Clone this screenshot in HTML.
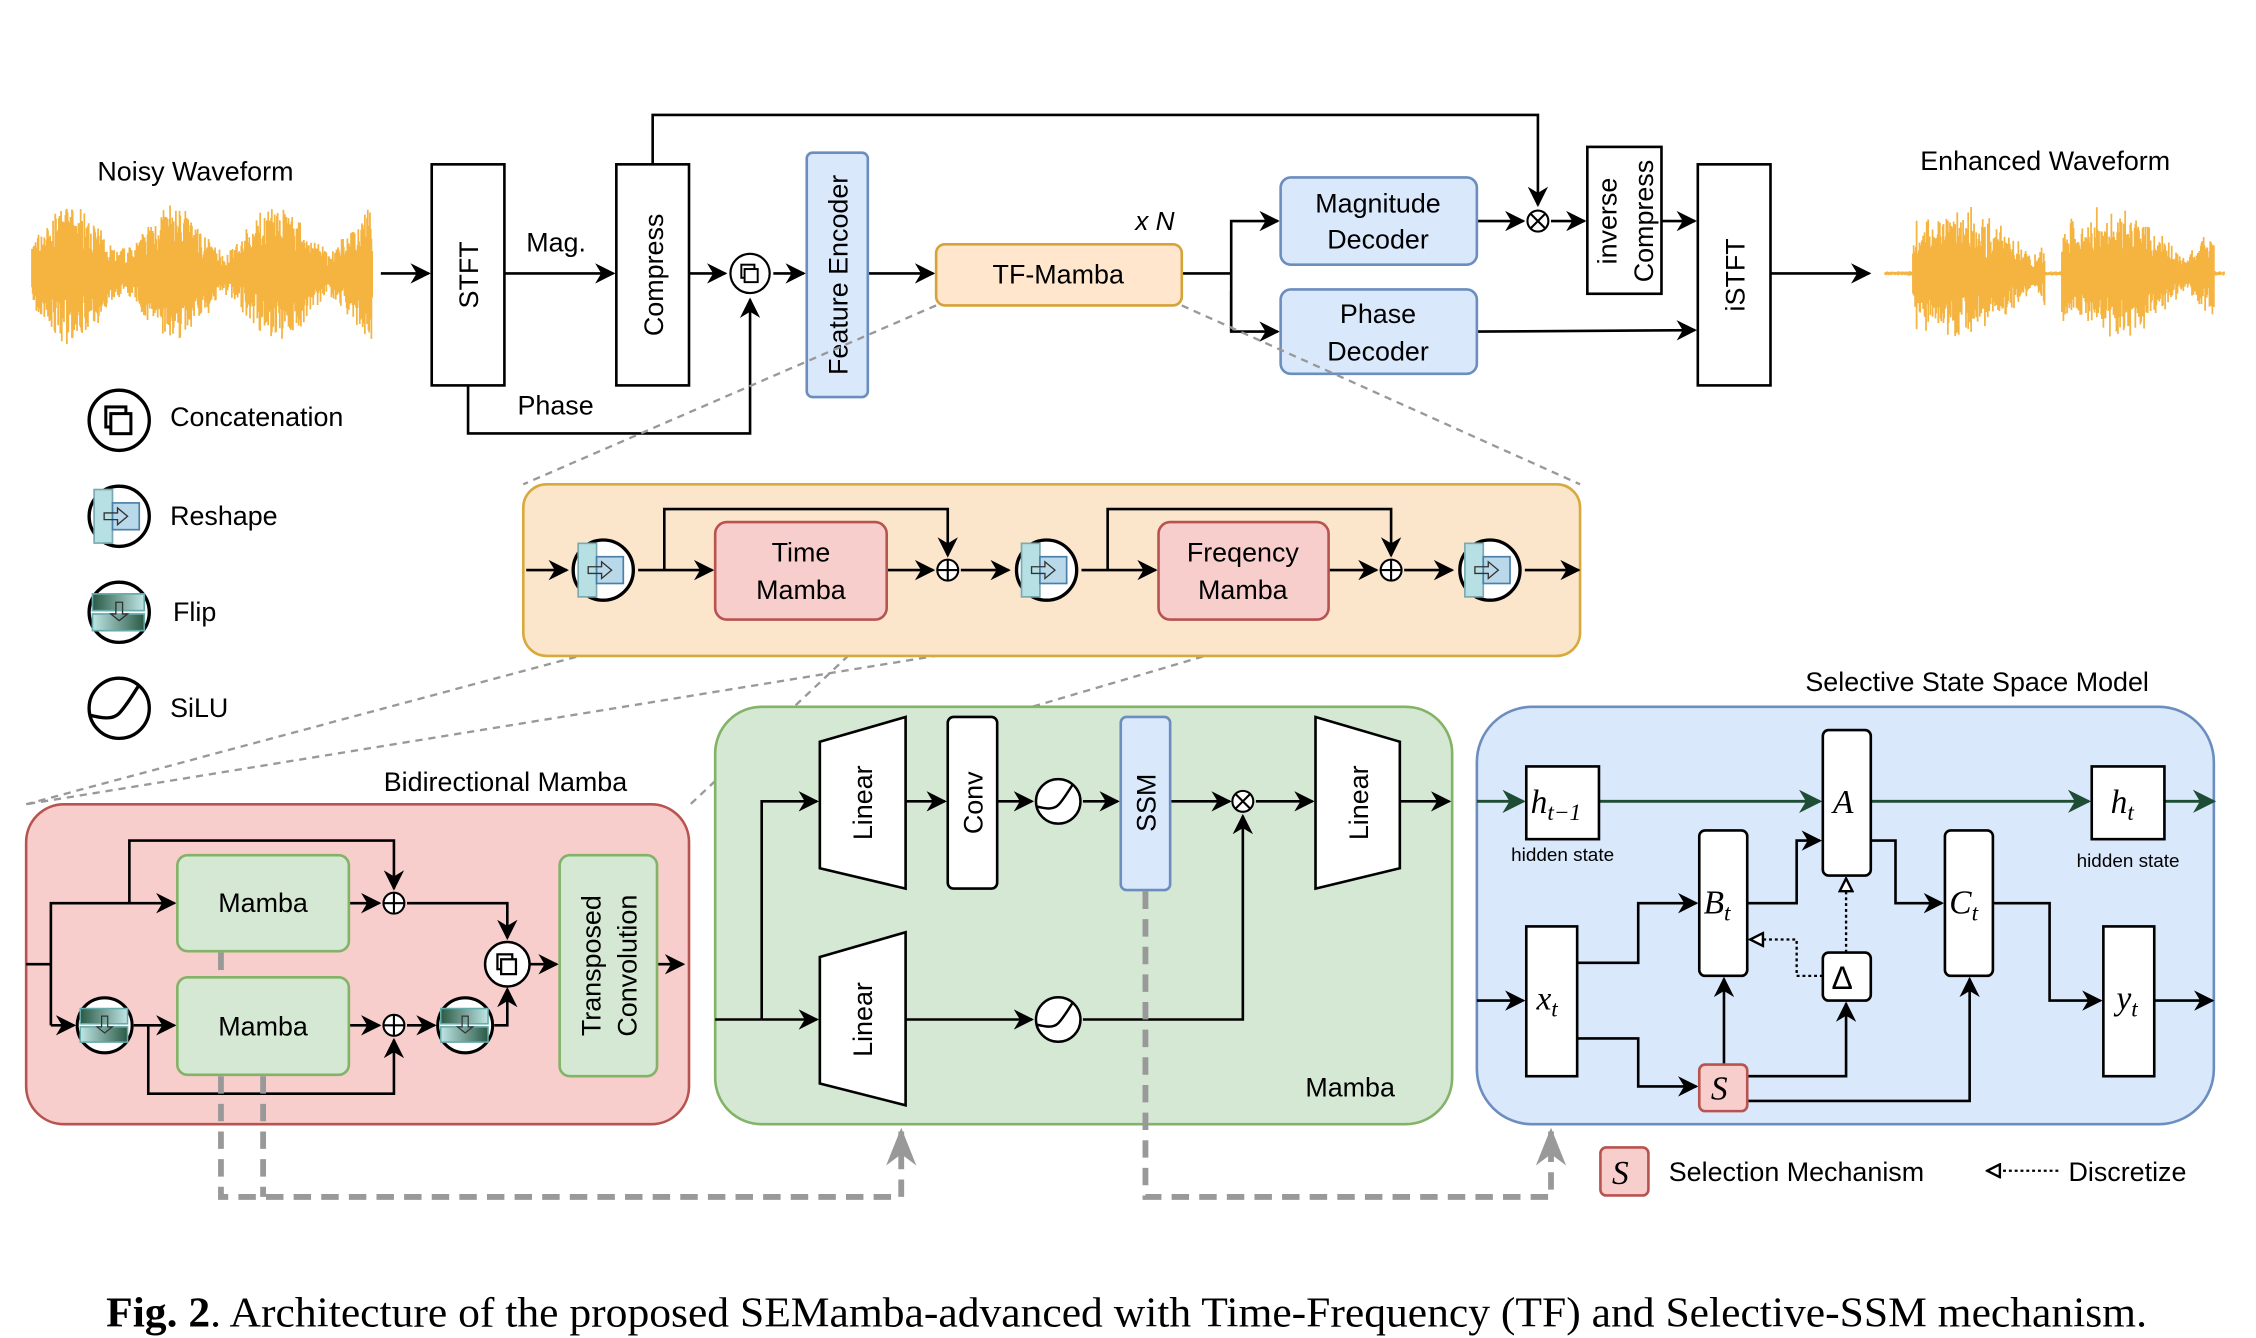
<!DOCTYPE html>
<html><head><meta charset="utf-8">
<style>
html,body{margin:0;padding:0;background:#fff;}
svg{display:block;}
text{font-family:"Liberation Sans",sans-serif;fill:#000;}
.m{font-family:"Liberation Serif",serif;font-style:italic;}
</style></head>
<body>
<svg id="s" width="2256" height="1338" viewBox="0 0 1552 920" preserveAspectRatio="none" xmlns="http://www.w3.org/2000/svg">
<defs>
<marker id="a" viewBox="0 0 10 10" refX="9" refY="5" markerWidth="7" markerHeight="7" orient="auto" markerUnits="userSpaceOnUse"><path d="M0,0 L10,5 L0,10 L3,5 Z" fill="#000"/></marker>
<marker id="ab" viewBox="0 0 10 10" refX="9" refY="5" markerWidth="14" markerHeight="14" orient="auto" markerUnits="userSpaceOnUse"><path d="M0,0 L10,5 L0,10 L3,5 Z" fill="#000"/></marker>
<marker id="ag" viewBox="0 0 10 10" refX="9" refY="5" markerWidth="16" markerHeight="16" orient="auto" markerUnits="userSpaceOnUse"><path d="M0,0 L10,5 L0,10 L3,5 Z" fill="#1e4d35"/></marker>
<marker id="ao" viewBox="0 0 10 10" refX="9" refY="5" markerWidth="11" markerHeight="11" orient="auto" markerUnits="userSpaceOnUse"><path d="M1,1 L9,5 L1,9 Z" fill="#fff" stroke="#000" stroke-width="1.5"/></marker>
<marker id="agr" viewBox="0 0 10 10" refX="9" refY="5" markerWidth="26" markerHeight="26" orient="auto" markerUnits="userSpaceOnUse"><path d="M0,1 L10,5 L0,9 L3,5 Z" fill="#999"/></marker>
<linearGradient id="fg1" x1="0" x2="1"><stop offset="0" stop-color="#2a5a45"/><stop offset="1" stop-color="#bfe6e6"/></linearGradient>
<linearGradient id="fg2" x1="0" x2="1"><stop offset="0" stop-color="#bfe6e6"/><stop offset="1" stop-color="#2a5a45"/></linearGradient>
<symbol id="cat" viewBox="-20 -20 40 40" overflow="visible"><circle r="18" fill="#fff" stroke="#000" stroke-width="2"/><rect x="-8" y="-8" width="12" height="12" fill="#fff" stroke="#000" stroke-width="1.8"/><rect x="-5" y="-4" width="12" height="12" fill="#fff" stroke="#000" stroke-width="1.8"/></symbol>
<symbol id="rsh" viewBox="-20 -20 40 40" overflow="visible"><circle r="18" fill="#fff" stroke="#000" stroke-width="2"/><rect x="-15" y="-16" width="11" height="32" fill="#b6e0e4" stroke="#7aaab0"/><rect x="-4" y="-8" width="16" height="16" fill="#b9d9ea" stroke="#4a7fa8"/><path d="M-9,-2 H-1 V-5 L5,0 L-1,5 V2 H-9 Z" fill="none" stroke="#333" stroke-width="0.8"/></symbol>
<symbol id="flp" viewBox="-20 -20 40 40" overflow="visible"><circle r="18" fill="#fff" stroke="#000" stroke-width="2"/><rect x="-16" y="-11" width="31" height="10" fill="url(#fg1)" stroke="#6aa"/><rect x="-16" y="1" width="31" height="10" fill="url(#fg2)" stroke="#6aa"/><path d="M-2,-6 H2 V1 H5 L0,5 L-5,1 H-2 Z" fill="none" stroke="#333" stroke-width="0.8"/></symbol>
<symbol id="silu" viewBox="-20 -20 40 40" overflow="visible"><circle r="18" fill="#fff" stroke="#000" stroke-width="2"/><path d="M-18,4 C-10,6 -4,7 0,3 C4,-1 8,-8 12,-14" fill="none" stroke="#000" stroke-width="2"/></symbol>
<symbol id="plus" viewBox="-10 -10 20 20" overflow="visible"><circle r="8" fill="#fff" stroke="#000" stroke-width="1.6"/><path d="M-8,0 H8 M0,-8 V8" stroke="#000" stroke-width="1.6"/></symbol>
<symbol id="tim" viewBox="-10 -10 20 20" overflow="visible"><circle r="8" fill="#fff" stroke="#000" stroke-width="1.6"/><path d="M-5.6,-5.6 L5.6,5.6 M5.6,-5.6 L-5.6,5.6" stroke="#000" stroke-width="1.6"/></symbol>
</defs>

<g id="w1" fill="none" stroke="#f5b340" stroke-width="1.2"></g>
<g id="w2" fill="none" stroke="#f5b340" stroke-width="1.2"></g>

<g font-size="18.5">
<text x="67" y="124">Noisy Waveform</text>
<text x="1321" y="117">Enhanced Waveform</text>
</g>

<g stroke="#000" stroke-width="1.8" fill="none">
<line x1="262" y1="188" x2="295" y2="188" marker-end="url(#ab)"/>
<rect x="297" y="113" width="50" height="152" fill="#fff"/>
<line x1="347" y1="188" x2="422" y2="188" marker-end="url(#ab)"/>
<rect x="424" y="113" width="50" height="152" fill="#fff"/>
<polyline points="322,265 322,298 516,298 516,206" marker-end="url(#ab)"/>
<line x1="474" y1="188" x2="499" y2="188" marker-end="url(#ab)"/>
<line x1="532" y1="188" x2="553" y2="188" marker-end="url(#ab)"/>
<line x1="597" y1="188" x2="642" y2="188" marker-end="url(#ab)"/>
<polyline points="813,188 847,188"/>
<polyline points="847,228 847,152 879,152" marker-end="url(#ab)"/>
<polyline points="847,200 847,228 879,228" marker-end="url(#ab)"/>
<polyline points="449,113 449,79 1058,79 1058,141" marker-end="url(#ab)"/>
<line x1="1016" y1="152" x2="1048" y2="152" marker-end="url(#ab)"/>
<line x1="1067" y1="152" x2="1090" y2="152" marker-end="url(#ab)"/>
<rect x="1092" y="101" width="51" height="101" fill="#fff"/>
<line x1="1143" y1="152" x2="1166" y2="152" marker-end="url(#ab)"/>
<polyline points="1016,228 1166,227" marker-end="url(#ab)"/>
<rect x="1168" y="113" width="50" height="152" fill="#fff"/>
<line x1="1218" y1="188" x2="1286" y2="188" marker-end="url(#ab)"/>
</g>
<use href="#cat" x="501" y="173" width="30" height="30"/>
<use href="#tim" x="1049" y="143" width="18" height="18"/>
<rect x="555" y="105" width="42" height="168" rx="4" fill="#dae8fc" stroke="#6c8ebf" stroke-width="1.8"/>
<rect x="644" y="168" width="169" height="42" rx="6" fill="#ffe6cc" stroke="#d6a23a" stroke-width="1.8"/>
<rect x="881" y="122" width="135" height="60" rx="7" fill="#dae8fc" stroke="#6c8ebf" stroke-width="1.8"/>
<rect x="881" y="199" width="135" height="58" rx="7" fill="#dae8fc" stroke="#6c8ebf" stroke-width="1.8"/>
<g font-size="18.5" text-anchor="middle">
<text transform="translate(329,189) rotate(-90)">STFT</text>
<text transform="translate(456,189) rotate(-90)">Compress</text>
<text transform="translate(583,189) rotate(-90)">Feature Encoder</text>
<text transform="translate(1200,189) rotate(-90)">iSTFT</text>
<text transform="translate(1112,152) rotate(-90)">inverse</text>
<text transform="translate(1137,152) rotate(-90)">Compress</text>
<text x="728" y="195">TF-Mamba</text>
<text x="948" y="146">Magnitude</text>
<text x="948" y="171">Decoder</text>
<text x="948" y="222">Phase</text>
<text x="948" y="248">Decoder</text>
</g>
<text x="362" y="173" font-size="18.5">Mag.</text>
<text x="356" y="285" font-size="18.5">Phase</text>
<text x="781" y="158" font-size="18" font-style="italic">x N</text>

<use href="#cat" x="59" y="266" width="46" height="46"/>
<use href="#rsh" x="59" y="332" width="46" height="46"/>
<use href="#flp" x="59" y="398" width="46" height="46"/>
<use href="#silu" x="59" y="464" width="46" height="46"/>
<g font-size="18.5">
<text x="117" y="293">Concatenation</text>
<text x="117" y="361">Reshape</text>
<text x="119" y="427">Flip</text>
<text x="117" y="493">SiLU</text>
</g>

<g stroke="#999" stroke-width="1.6" stroke-dasharray="5 4" fill="none">
<line x1="644" y1="210" x2="360" y2="333"/>
<line x1="813" y1="210" x2="1087" y2="333"/>
<line x1="492" y1="426" x2="18" y2="553"/>
<line x1="797" y1="426" x2="18" y2="553"/>
<line x1="610" y1="426" x2="475" y2="553"/>
<line x1="914" y1="426" x2="710" y2="486"/>
</g>

<rect x="360" y="333" width="727" height="118" rx="16" fill="#fbe6cc" stroke="#d8a93c" stroke-width="1.8"/>
<g stroke="#000" stroke-width="1.8" fill="none">
<line x1="362" y1="392" x2="390" y2="392" marker-end="url(#ab)"/>
<line x1="439" y1="392" x2="490" y2="392" marker-end="url(#ab)"/>
<polyline points="457,392 457,350 652,350 652,382" marker-end="url(#ab)"/>
<line x1="610" y1="392" x2="642" y2="392" marker-end="url(#ab)"/>
<line x1="661" y1="392" x2="694" y2="392" marker-end="url(#ab)"/>
<line x1="744" y1="392" x2="795" y2="392" marker-end="url(#ab)"/>
<polyline points="762,392 762,350 957,350 957,382" marker-end="url(#ab)"/>
<line x1="914" y1="392" x2="947" y2="392" marker-end="url(#ab)"/>
<line x1="966" y1="392" x2="999" y2="392" marker-end="url(#ab)"/>
<line x1="1049" y1="392" x2="1086" y2="392" marker-end="url(#ab)"/>
</g>
<use href="#rsh" x="392" y="369" width="46" height="46"/>
<use href="#rsh" x="697" y="369" width="46" height="46"/>
<use href="#rsh" x="1002" y="369" width="46" height="46"/>
<use href="#plus" x="643" y="383" width="18" height="18"/>
<use href="#plus" x="948" y="383" width="18" height="18"/>
<rect x="492" y="359" width="118" height="67" rx="8" fill="#f8cecc" stroke="#b85450" stroke-width="1.8"/>
<rect x="797" y="359" width="117" height="67" rx="8" fill="#f8cecc" stroke="#b85450" stroke-width="1.8"/>
<g font-size="18.5" text-anchor="middle">
<text x="551" y="386">Time</text><text x="551" y="412">Mamba</text>
<text x="855" y="386">Freqency</text><text x="855" y="412">Mamba</text>
</g>

<text x="264" y="544" font-size="18.5">Bidirectional Mamba</text>
<rect x="18" y="553" width="456" height="220" rx="26" fill="#f8cecc" stroke="#b85450" stroke-width="1.8"/>
<g stroke="#000" stroke-width="1.8" fill="none">
<polyline points="18,663 35,663"/>
<polyline points="35,705 35,621 120,621" marker-end="url(#ab)"/>
<line x1="35" y1="705" x2="51" y2="705" marker-end="url(#ab)"/>
<polyline points="89,621 89,578 271,578 271,611" marker-end="url(#ab)"/>
<line x1="240" y1="621" x2="261" y2="621" marker-end="url(#ab)"/>
<polyline points="280,621 349,621 349,645" marker-end="url(#ab)"/>
<line x1="92" y1="705" x2="120" y2="705" marker-end="url(#ab)"/>
<polyline points="102,705 102,752 271,752 271,715" marker-end="url(#ab)"/>
<line x1="240" y1="705" x2="261" y2="705" marker-end="url(#ab)"/>
<line x1="280" y1="705" x2="299" y2="705" marker-end="url(#ab)"/>
<polyline points="340,705 349,705 349,680" marker-end="url(#ab)"/>
<line x1="365" y1="663" x2="383" y2="663" marker-end="url(#ab)"/>
<line x1="452" y1="663" x2="470" y2="663" marker-end="url(#ab)"/>
</g>
<use href="#flp" x="51" y="684" width="42" height="42"/>
<use href="#flp" x="299" y="684" width="42" height="42"/>
<use href="#cat" x="332" y="646" width="34" height="34"/>
<use href="#plus" x="262" y="612" width="18" height="18"/>
<use href="#plus" x="262" y="696" width="18" height="18"/>
<rect x="122" y="588" width="118" height="66" rx="7" fill="#d5e8d4" stroke="#82b366" stroke-width="1.8"/>
<rect x="122" y="672" width="118" height="67" rx="7" fill="#d5e8d4" stroke="#82b366" stroke-width="1.8"/>
<rect x="385" y="588" width="67" height="152" rx="7" fill="#d5e8d4" stroke="#82b366" stroke-width="1.8"/>
<g font-size="18.5" text-anchor="middle">
<text x="181" y="627">Mamba</text>
<text x="181" y="712">Mamba</text>
<text transform="translate(413,664) rotate(-90)">Transposed</text>
<text transform="translate(438,664) rotate(-90)">Convolution</text>
</g>

<rect x="492" y="486" width="507" height="287" rx="32" fill="#d5e8d4" stroke="#82b366" stroke-width="1.8"/>
<g stroke="#000" stroke-width="1.8" fill="none">
<polyline points="492,701 524,701"/>
<polyline points="524,701 524,551 562,551" marker-end="url(#ab)"/>
<line x1="524" y1="701" x2="562" y2="701" marker-end="url(#ab)"/>
<line x1="623" y1="551" x2="650" y2="551" marker-end="url(#ab)"/>
<line x1="686" y1="551" x2="710" y2="551" marker-end="url(#ab)"/>
<line x1="745" y1="551" x2="769" y2="551" marker-end="url(#ab)"/>
<line x1="805" y1="551" x2="846" y2="551" marker-end="url(#ab)"/>
<line x1="864" y1="551" x2="903" y2="551" marker-end="url(#ab)"/>
<line x1="963" y1="551" x2="997" y2="551" marker-end="url(#ab)"/>
<line x1="623" y1="701" x2="710" y2="701" marker-end="url(#ab)"/>
<polyline points="745,701 855,701 855,561" marker-end="url(#ab)"/>
</g>
<g stroke="#000" stroke-width="1.8" fill="#fff">
<polygon points="564,510 623,493 623,611 564,597"/>
<polygon points="564,658 623,641 623,760 564,745"/>
<polygon points="905,493 963,510 963,597 905,611"/>
<rect x="652" y="493" width="34" height="118" rx="4"/>
</g>
<rect x="771" y="493" width="34" height="119" rx="4" fill="#dae8fc" stroke="#6c8ebf" stroke-width="1.8"/>
<use href="#silu" x="711" y="534" width="34" height="34"/>
<use href="#silu" x="711" y="684" width="34" height="34"/>
<use href="#tim" x="846" y="542" width="18" height="18"/>
<g font-size="18.5" text-anchor="middle">
<text transform="translate(600,552) rotate(-90)">Linear</text>
<text transform="translate(600,701) rotate(-90)">Linear</text>
<text transform="translate(941,552) rotate(-90)">Linear</text>
<text transform="translate(676,552) rotate(-90)">Conv</text>
<text transform="translate(795,552) rotate(-90)">SSM</text>
</g>
<text x="898" y="754" font-size="18.5">Mamba</text>

<g stroke="#999" stroke-width="4" stroke-dasharray="12 7" fill="none">
<line x1="152" y1="655" x2="152" y2="671"/>
<polyline points="152,740 152,823 620,823 620,778" marker-end="url(#agr)"/>
<line x1="181" y1="740" x2="181" y2="823"/>
<polyline points="788,613 788,823 1067,823 1067,778" marker-end="url(#agr)"/>
</g>

<text x="1242" y="475" font-size="18.5">Selective State Space Model</text>
<rect x="1016" y="486" width="507" height="287" rx="38" fill="#dae8fc" stroke="#6c8ebf" stroke-width="1.8"/>
<g stroke="#1e4d35" stroke-width="2" fill="none">
<line x1="1016" y1="551" x2="1048" y2="551" marker-end="url(#ag)"/>
<line x1="1100" y1="551" x2="1252" y2="551" marker-end="url(#ag)"/>
<line x1="1287" y1="551" x2="1437" y2="551" marker-end="url(#ag)"/>
<line x1="1489" y1="551" x2="1523" y2="551" marker-end="url(#ag)"/>
</g>
<g stroke="#000" stroke-width="1.8" fill="none">
<line x1="1016" y1="688" x2="1048" y2="688" marker-end="url(#ab)"/>
<polyline points="1085,662 1127,662 1127,621 1167,621" marker-end="url(#ab)"/>
<polyline points="1202,621 1236,621 1236,578 1252,578" marker-end="url(#ab)"/>
<polyline points="1085,714 1127,714 1127,747 1167,747" marker-end="url(#ab)"/>
<line x1="1186" y1="732" x2="1186" y2="673" marker-end="url(#ab)"/>
<polyline points="1202,740 1270,740 1270,690" marker-end="url(#ab)"/>
<polyline points="1202,757 1355,757 1355,673" marker-end="url(#ab)"/>
<polyline points="1287,578 1304,578 1304,621 1336,621" marker-end="url(#ab)"/>
<polyline points="1371,621 1410,621 1410,688 1445,688" marker-end="url(#ab)"/>
<line x1="1482" y1="688" x2="1522" y2="688" marker-end="url(#ab)"/>
</g>
<g stroke="#000" stroke-width="1.6" stroke-dasharray="2 2" fill="none">
<line x1="1270" y1="655" x2="1270" y2="604" marker-end="url(#ao)"/>
<polyline points="1254,671 1236,671 1236,646 1204,646" marker-end="url(#ao)"/>
<line x1="1416" y1="805" x2="1367" y2="805" marker-end="url(#ao)"/>
</g>
<g stroke="#000" stroke-width="1.8" fill="#fff">
<rect x="1050" y="527" width="50" height="50"/>
<rect x="1439" y="527" width="50" height="50"/>
<rect x="1254" y="502" width="33" height="100" rx="4"/>
<rect x="1169" y="571" width="33" height="100" rx="4"/>
<rect x="1338" y="571" width="33" height="100" rx="4"/>
<rect x="1254" y="655" width="33" height="33" rx="4"/>
<rect x="1050" y="637" width="35" height="103"/>
<rect x="1447" y="637" width="35" height="103"/>
</g>
<rect x="1169" y="732" width="33" height="32" rx="4" fill="#f8cecc" stroke="#b85450" stroke-width="1.8"/>
<rect x="1101" y="789" width="33" height="33" rx="4" fill="#f8cecc" stroke="#b85450" stroke-width="1.8"/>
<g font-size="23">
<text class="m" x="1053" y="559">h<tspan font-size="16" dy="5">t−1</tspan></text>
<text class="m" x="1452" y="559">h<tspan font-size="16" dy="5">t</tspan></text>
<text class="m" x="1261" y="559">A</text>
<text class="m" x="1172" y="628">B<tspan font-size="16" dy="5">t</tspan></text>
<text class="m" x="1341" y="628">C<tspan font-size="16" dy="5">t</tspan></text>
<text class="m" x="1057" y="694">x<tspan font-size="16" dy="5">t</tspan></text>
<text class="m" x="1456" y="694">y<tspan font-size="16" dy="5">t</tspan></text>
<text class="m" x="1177" y="756">S</text>
<text class="m" x="1109" y="814">S</text>
</g>
<text x="1260" y="680" font-size="22" font-family="Liberation Serif">Δ</text>
<g font-size="13" text-anchor="middle">
<text x="1075" y="592">hidden state</text>
<text x="1464" y="596">hidden state</text>
</g>
<text x="1148" y="812" font-size="18.5">Selection Mechanism</text>
<text x="1423" y="812" font-size="18.5">Discretize</text>

<text x="73" y="912" font-size="29" textLength="1404" lengthAdjust="spacingAndGlyphs" style="font-family:'Liberation Serif',serif"><tspan font-weight="bold">Fig. 2</tspan>. Architecture of the proposed SEMamba-advanced with Time-Frequency (TF) and Selective-SSM mechanism.</text>
</svg>
<script>
(function(){
var seed=7;function r(){seed=(seed*16807)%2147483647;return seed/2147483647;}
function env1(t){return 10+32*Math.pow(Math.abs(Math.sin(t*Math.PI*3.3+0.4)),1.5)+8*r();}
function env2(t){
  var s=Math.abs(Math.sin(t*Math.PI*2.2+0.15));
  if(t<0.08||t>0.97||(t>0.47&&t<0.52))return 1.5;
  return 8+40*Math.pow(s,0.7)*(0.5+0.5*r());}
function draw(id,x0,x1,cy,env){
  var d="";for(var x=x0;x<=x1;x+=0.5){var t=(x-x0)/(x1-x0);var a=env(t);
  var up=a*(0.35+0.65*r()),dn=a*(0.35+0.65*r());d+="M"+x.toFixed(1)+","+(cy-up).toFixed(1)+"V"+(cy+dn).toFixed(1);}
  var p=document.createElementNS("http://www.w3.org/2000/svg","path");p.setAttribute("d",d);
  document.getElementById(id).appendChild(p);}
draw("w1",22,256,188,env1);
draw("w2",1297,1530,188,env2);
})();
</script>
</body></html>
